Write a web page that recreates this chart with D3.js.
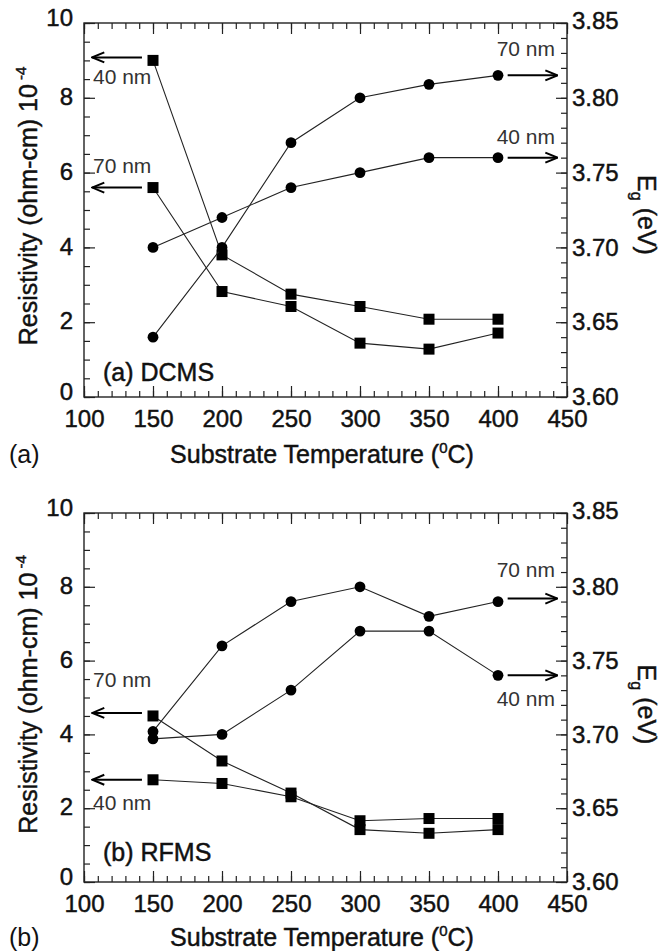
<!DOCTYPE html>
<html>
<head>
<meta charset="utf-8">
<script src="https://cdn.jsdelivr.net/npm/d3@7"></script>
<style>
  body { margin: 0; background: #fff; }
  svg { font-family: "Liberation Sans", Arial, sans-serif; }
  .bold { stroke: #111; stroke-width: 0.45px; }
</style>
</head>
<body>
<svg id="chart" width="661" height="951"></svg>
<script>
// temperatures (x) and tick values
const temps = [150, 200, 250, 300, 350, 400]
const xTicks = [100, 150, 200, 250, 300, 350, 400, 450]
const resTicks = [0, 2, 4, 6, 8, 10]
const egTicks = [3.60, 3.65, 3.70, 3.75, 3.80, 3.85]

// (a) DCMS – resistivity (10^-4 ohm-cm) and band gap (eV)
const dcmsRes40 = [9.0, 3.8, 2.75, 2.42, 2.08, 2.08]
const dcmsRes70 = [5.6, 2.82, 2.42, 1.44, 1.28, 1.71]
const dcmsEg70 = [3.640, 3.700, 3.770, 3.800, 3.809, 3.815]
const dcmsEg40 = [3.700, 3.720, 3.740, 3.750, 3.760, 3.760]

// (b) RFMS
const rfmsRes70 = [4.5, 3.28, 2.41, 1.42, 1.32, 1.42]
const rfmsRes40 = [2.77, 2.67, 2.31, 1.66, 1.72, 1.72]
const rfmsEg70 = [3.702, 3.760, 3.790, 3.800, 3.780, 3.790]
const rfmsEg40 = [3.697, 3.700, 3.730, 3.770, 3.770, 3.740]

const svg = d3.select('#chart')
const TICK_FONT = 24
const TITLE_FONT = 25

const defs = svg.append('defs')
defs.append('marker')
    .attr('id', 'head')
    .attr('viewBox', '0 0 14 14')
    .attr('refX', 13).attr('refY', 7)
    .attr('markerWidth', 14).attr('markerHeight', 14)
    .attr('markerUnits', 'userSpaceOnUse')
    .attr('orient', 'auto')
  .append('path')
    .attr('d', 'M1,2 L13,7 L1,12')
    .attr('fill', 'none')
    .attr('stroke', '#000')
    .attr('stroke-width', 2)

function styleAxis (sel) {
  sel.attr('font-size', null).attr('font-family', null)
  sel.select('.domain').remove()
  sel.selectAll('line').attr('stroke', '#222').attr('stroke-width', 1.2)
  sel.selectAll('text').attr('fill', '#111').attr('class', 'bold')
    .style('font-size', TICK_FONT + 'px')
}

function drawPanel (p) {
  const x = d3.scaleLinear().domain([100, 450]).range([84, 567])
  const yRes = d3.scaleLinear().domain([0, 10]).range([p.bottom, p.top])
  const yEg = d3.scaleLinear().domain([3.60, 3.85]).range([p.bottom, p.top])
  const g = svg.append('g')

  // ticks, pointing inward on all four sides
  const minorX = d3.range(100, 451, 10)
  const minorRes = d3.range(0, 10.01, 0.5)
  const minorEg = d3.range(0, 26).map(i => 3.60 + i * 0.01)

  const axes = [
    [d3.axisBottom, x, minorX, xTicks, `translate(0,${p.bottom})`],
    [d3.axisTop, x, minorX, xTicks, `translate(0,${p.top})`],
    [d3.axisLeft, yRes, minorRes, resTicks, 'translate(84,0)'],
    [d3.axisRight, yEg, minorEg, egTicks, 'translate(567,0)']
  ]
  axes.forEach(([fn, sc, minor, major, tr]) => {
    g.append('g').attr('transform', tr)
      .call(fn(sc).tickValues(minor).tickSize(-6).tickFormat(''))
      .call(styleAxis)
    g.append('g').attr('transform', tr)
      .call(fn(sc).tickValues(major).tickSize(-11).tickFormat(''))
      .call(styleAxis)
  })

  // tick labels
  g.append('g').attr('transform', `translate(0,${p.bottom})`)
    .call(d3.axisBottom(x).tickValues(xTicks).tickSize(0).tickPadding(13).tickFormat(d3.format('d')))
    .call(styleAxis)
  g.append('g').attr('transform', 'translate(84,0)')
    .call(d3.axisLeft(yRes).tickValues(resTicks).tickSize(0).tickPadding(11).tickFormat(d3.format('d')))
    .call(styleAxis)
    .selectAll('text')
      .attr('y', d => (d === 0 || d === 10) ? -5 : -1)
  g.append('g').attr('transform', 'translate(567,0)')
    .call(d3.axisRight(yEg).tickValues(egTicks).tickSize(0).tickPadding(5).tickFormat(d3.format('.2f')))
    .call(styleAxis)
    .selectAll('text')
      .attr('y', d => d > 3.84 ? -2 : 0)

  // frame
  g.append('rect')
    .attr('x', 84).attr('y', p.top)
    .attr('width', 567 - 84).attr('height', p.bottom - p.top)
    .attr('fill', 'none').attr('stroke', '#222').attr('stroke-width', 1.4)

  // series
  const series = p.res.map(s => ({ ...s, y: yRes, shape: 'square' }))
    .concat(p.eg.map(s => ({ ...s, y: yEg, shape: 'circle' })))

  series.forEach(s => {
    const pts = temps.map((t, i) => [x(t), s.y(s.vals[i])])
    g.append('path')
      .attr('d', d3.line()(pts))
      .attr('fill', 'none').attr('stroke', '#222').attr('stroke-width', 1.1)
    if (s.shape === 'square') {
      g.selectAll(null).data(pts).join('rect')
        .attr('x', d => d[0] - 5.5).attr('y', d => d[1] - 5.5)
        .attr('width', 11).attr('height', 11).attr('fill', '#000')
    } else {
      g.selectAll(null).data(pts).join('circle')
        .attr('cx', d => d[0]).attr('cy', d => d[1]).attr('r', 5.4).attr('fill', '#000')
    }

    // arrow toward its axis plus thickness label
    const ay = s.shape === 'square' ? s.y(s.vals[0]) + s.arrowDy : s.y(s.vals[s.vals.length - 1]) + s.arrowDy
    const xs = s.shape === 'square' ? [x(142), x(106)] : [x(407), x(443)]
    g.append('line')
      .attr('x1', xs[0]).attr('x2', xs[1]).attr('y1', ay).attr('y2', ay)
      .attr('stroke', '#000').attr('stroke-width', 2)
      .attr('marker-end', 'url(#head)')
    g.append('text')
      .attr('x', s.shape === 'square' ? 93 : 555)
      .attr('y', ay + s.labelDy)
      .attr('text-anchor', s.shape === 'square' ? 'start' : 'end')
      .attr('fill', '#333')
      .style('font-size', '21px')
      .text(s.label)
  })

  // panel tag inside the frame
  g.append('text')
    .attr('x', 103).attr('y', p.bottom - p.nameUp)
    .attr('class', 'bold')
    .style('font-size', TITLE_FONT + 'px').attr('fill', '#111')
    .text(p.name)

  // axis titles
  const xt = g.append('text')
    .attr('x', 322).attr('y', p.bottom + p.titleDown)
    .attr('text-anchor', 'middle').attr('class', 'bold')
    .style('font-size', TITLE_FONT + 'px').attr('fill', '#111')
  xt.append('tspan').text('Substrate Temperature (')
  xt.append('tspan').attr('dy', -10).style('font-size', '15px').text('0')
  xt.append('tspan').attr('dy', 10).text('C)')

  g.append('text')
    .attr('x', 9).attr('y', p.bottom + p.titleDown)
    .style('font-size', TITLE_FONT + 'px').attr('fill', '#111')
    .text(p.tag)

  const mid = (p.top + p.bottom) / 2
  const yt = g.append('text')
    .attr('transform', `translate(37,${mid + p.yTitleDy}) rotate(-90)`)
    .attr('text-anchor', 'middle').attr('class', 'bold')
    .style('font-size', TITLE_FONT + 'px').attr('fill', '#111')
  yt.append('tspan').text('Resistivity (ohm-cm) 10')
  yt.append('tspan').attr('dy', -11).style('font-size', '15px').text(' -4')

  const et = g.append('text')
    .attr('transform', `translate(638,${mid + p.egTitleDy}) rotate(90)`)
    .attr('text-anchor', 'middle').attr('class', 'bold')
    .style('font-size', TITLE_FONT + 'px').attr('fill', '#111')
  et.append('tspan').text('E')
  et.append('tspan').attr('dy', 7).style('font-size', '16px').text('g')
  et.append('tspan').attr('dy', -7).text(' (eV)')
}

drawPanel({
  top: 23, bottom: 397, tag: '(a)', name: '(a) DCMS',
  nameUp: 16, titleDown: 66, yTitleDy: -4, egTitleDy: 5,
  res: [
    { vals: dcmsRes40, label: '40 nm', arrowDy: -3, labelDy: 27 },
    { vals: dcmsRes70, label: '70 nm', arrowDy: 0, labelDy: -15 }
  ],
  eg: [
    { vals: dcmsEg70, label: '70 nm', arrowDy: 0, labelDy: -19 },
    { vals: dcmsEg40, label: '40 nm', arrowDy: 0, labelDy: -14 }
  ]
})

drawPanel({
  top: 513, bottom: 882, tag: '(b)', name: '(b) RFMS',
  nameUp: 21, titleDown: 64, yTitleDy: -3, egTitleDy: 7,
  res: [
    { vals: rfmsRes70, label: '70 nm', arrowDy: -3, labelDy: -26 },
    { vals: rfmsRes40, label: '40 nm', arrowDy: 0, labelDy: 30 }
  ],
  eg: [
    { vals: rfmsEg70, label: '70 nm', arrowDy: -3, labelDy: -22 },
    { vals: rfmsEg40, label: '40 nm', arrowDy: 0, labelDy: 31 }
  ]
})
</script>
</body>
</html>
